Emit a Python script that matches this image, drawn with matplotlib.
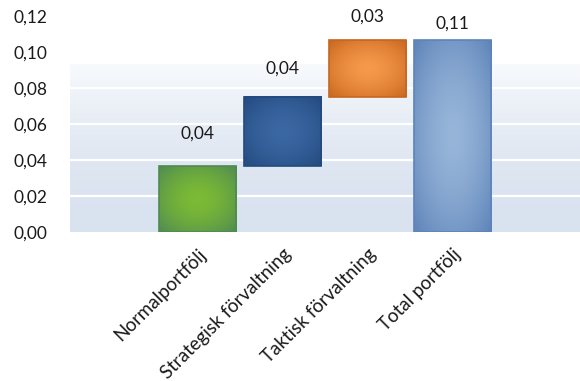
import numpy as np
import matplotlib
matplotlib.use('Agg')
import matplotlib.pyplot as plt
from matplotlib.colors import to_rgb

plt.rcParams['font.family'] = ['Lato', 'DejaVu Sans']

# waterfall data
categories = ['Normalportfölj', 'Strategisk förvaltning', 'Taktisk förvaltning', 'Total portfölj']
steps = [0.0365, 0.0385, 0.0315]
labels = ['0,04', '0,04', '0,03', '0,11']
yticks = [0.00, 0.02, 0.04, 0.06, 0.08, 0.10, 0.12]

# bar colours (centre, edge) and label lift in points
centre_cols = ['#7cbb34', '#3b67a3', '#f6994a', '#97b5d9']
edge_cols = ['#4f8a52', '#234a7e', '#c7661f', '#5d83b8']
label_lift = [18, 15, 11, 6]

bottoms = list(np.cumsum([0] + steps[:-1])) + [0]
heights = steps + [sum(steps)]

fig = plt.figure(figsize=(5.8, 3.81), dpi=100)
ax = fig.add_axes([0.1207, 0.391, 0.8793, 0.567])

# light blue plot background, paler towards the top
bg_top = 0.093
ys = np.linspace(0, 1, 300)
lo = np.array(to_rgb('#d9e2ef'))
hi = np.array(to_rgb('#f8fafd'))
mix = ys ** 1.8
img = lo[None, :] * (1 - mix[:, None]) + hi[None, :] * mix[:, None]
ax.imshow(img[:, None, :], extent=(-1.5, 4.5, 0, bg_top), origin='lower',
          aspect='auto', zorder=0)

for y in yticks[1:-2]:
    ax.axhline(y, color='white', lw=1.6, zorder=1)

# bars with a soft radial shading
w = 0.91
u = np.linspace(-1, 1, 120)
U, V = np.meshgrid(u, u)
t = np.clip(np.sqrt(U**2 + V**2) / np.sqrt(2), 0, 1) ** 1.6
for i, (b, h) in enumerate(zip(bottoms, heights)):
    c0 = np.array(to_rgb(centre_cols[i]))
    c1 = np.array(to_rgb(edge_cols[i]))
    shade = c0 * (1 - t[..., None]) + c1 * t[..., None]
    ax.imshow(shade, extent=(i - w / 2, i + w / 2, b, b + h), origin='lower',
              aspect='auto', zorder=2)
    ax.add_patch(plt.Rectangle((i - w / 2, b), w, h, fill=False,
                               ec=edge_cols[i], lw=1.2, zorder=3))
    ax.annotate(labels[i], (i, b + h), xytext=(0, label_lift[i]),
                textcoords='offset points', ha='center', va='bottom',
                fontsize=12.5, color='#1a1a1a')

ax.set_xlim(-1.5, 4.5)
ax.set_ylim(0, 0.12)
ax.set_yticks(yticks)
ax.set_yticklabels([f'{v:.2f}'.replace('.', ',') for v in yticks])
ax.set_xticks(range(len(categories)))
ax.set_xticklabels(categories, rotation=45, ha='right', rotation_mode='anchor')
ax.tick_params(length=0, labelsize=12.5, labelcolor='#1a1a1a')
ax.tick_params(axis='x', labelsize=13.5, pad=10)
ax.tick_params(axis='y', pad=16)
for s in ax.spines.values():
    s.set_visible(False)

fig.savefig('out.png', dpi=100)
